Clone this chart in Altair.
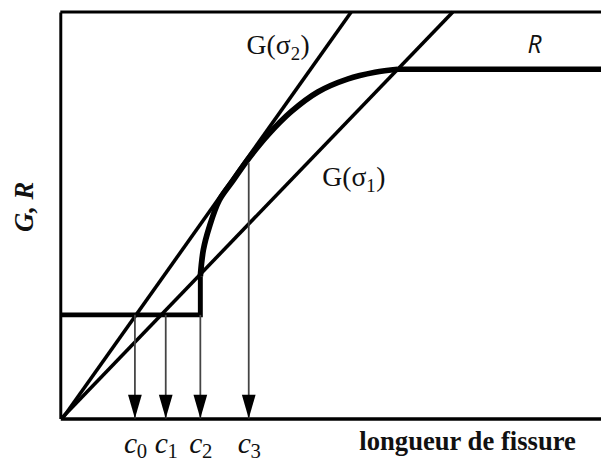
import altair as alt
import pandas as pd

# ---- data (arbitrary units 0..100) ----
C_BASE = ["c", "c", "c", "c"]
C_SUBS = ["0", "1", "2", "3"]
C_POS = [13.8, 19.5, 25.9, 34.85]
C_TOP = [25.5, 25.5, 25.5, 62.9]

STEP_X = [0.0, 25.9, 25.9]
STEP_Y = [25.5, 25.5, 35.0]

R_CURVE_X = [25.9, 26.46, 27.55, 29.38, 31.93, 34.49, 38.5, 42.7, 47.63, 53.1, 58.21, 62.41]
R_CURVE_Y = [35.0, 41.5, 47.09, 53.64, 58.5, 63.35, 69.9, 75.49, 80.34, 83.5, 85.19, 85.92]

PLATEAU_X = [62.41, 100.0]
PLATEAU_Y = [85.92, 85.92]

G2_X = [0.4, 53.8]
G2_Y = [0.0, 100.0]
G1_X = [0.2, 72.6]
G1_Y = [0.0, 100.0]

FRAME_TOP_X = [0.0, 100.0]
FRAME_TOP_Y = [100.0, 100.0]

# curve labels G(σ2), G(σ1): main part, subscript, anchor at subscript start
G_MAIN = ["G(σ", "G(σ"]
G_SUB = ["2", "1"]
G_X = [42.6, 56.6]
G_Y = [91.8, 59.4]

R_TEXT = ["R"]
R_X = [87.7]
R_Y = [91.9]

# ---- tables ----
def path_df(xs, ys):
    return pd.DataFrame({"x": xs, "y": ys, "i": list(range(len(xs)))})

arrows = pd.DataFrame({"x": C_POS, "y": C_TOP, "y2": [0.0] * len(C_POS), "sub": C_SUBS})
glab = pd.DataFrame({"x": G_X, "y": G_Y, "main": G_MAIN, "sub": G_SUB, "close": [")"] * len(G_X)})
rlab = pd.DataFrame({"x": R_X, "y": R_Y, "t": R_TEXT})

label_expr = " : ".join(
    f"abs(datum.value - {v}) < 0.01 ? '{l}'" for v, l in zip(C_POS, C_BASE)
) + " : ''"

xscale = alt.Scale(domain=[0, 100], nice=False, zero=False)
yscale = alt.Scale(domain=[0, 100], nice=False, zero=False)

x_axis = alt.Axis(
    values=C_POS, labelExpr=label_expr, labelFont="Liberation Serif",
    labelFontStyle="italic", labelFontSize=30, labelColor="#111",
    labelBaseline="alphabetic", labelAlign="center", labelPadding=34,
    labelOffset=-5,
    labelOverlap=False, labelFlush=False, ticks=False, tickSize=0, grid=False,
    domain=True, domainColor="black", domainWidth=3.5,
    title="longueur de fissure", titleFont="Liberation Serif", titleFontSize=27,
    titleFontWeight="bold", titleColor="#111", titleX=522, titleY=31,
    titleAlign="right", titleBaseline="alphabetic",
)
y_axis = alt.Axis(
    labels=False, ticks=False, tickSize=0, grid=False, domain=True,
    domainColor="black", domainWidth=3,
    title="G, R", titleFont="Liberation Serif", titleFontSize=27,
    titleFontStyle="italic", titleFontWeight="bold", titleColor="#111",
    titleAngle=270, titleX=-36, titleY=197, titleAlign="center",
    titleBaseline="middle",
)

base_x = alt.X("x:Q", scale=xscale, axis=x_axis)
base_y = alt.Y("y:Q", scale=yscale, axis=y_axis)

frame_top = alt.Chart(path_df(FRAME_TOP_X, FRAME_TOP_Y)).mark_line(
    color="black", strokeWidth=3
).encode(x=base_x, y=base_y, order="i:Q")

def line_layer(xs, ys, width, interp="linear"):
    return alt.Chart(path_df(xs, ys)).mark_line(
        color="black", strokeWidth=width, interpolate=interp, strokeJoin="miter", strokeCap="butt"
    ).encode(x=alt.X("x:Q"), y=alt.Y("y:Q"), order="i:Q")

g2 = line_layer(G2_X, G2_Y, 3.6)
g1 = line_layer(G1_X, G1_Y, 3.6)
step = line_layer(STEP_X, STEP_Y, 5)
curve = line_layer(R_CURVE_X, R_CURVE_Y, 5.8, "catmull-rom")
plateau = line_layer(PLATEAU_X, PLATEAU_Y, 5.8)

shafts = alt.Chart(arrows).mark_rule(color="#444", strokeWidth=1.8).encode(
    x="x:Q", y="y:Q", y2="y2:Q"
)
heads = alt.Chart(arrows).mark_point(
    shape="M-0.58,-1L0.58,-1L0,1Z", size=576, filled=True, color="black",
    opacity=1, yOffset=-12,
).encode(x="x:Q", y="y2:Q")

subs = alt.Chart(arrows).mark_text(
    font="Liberation Serif", fontSize=21, color="#111", align="center",
    baseline="alphabetic", dx=7, dy=40,
).encode(x="x:Q", y="y2:Q", text="sub:N")

g_main = alt.Chart(glab).mark_text(
    font="Liberation Serif", fontSize=28, color="#111", align="right",
    baseline="alphabetic", dy=9,
).encode(x="x:Q", y="y:Q", text="main:N")
g_sub = alt.Chart(glab).mark_text(
    font="Liberation Serif", fontSize=19, color="#111", align="left",
    baseline="alphabetic", dx=0, dy=15,
).encode(x="x:Q", y="y:Q", text="sub:N")
g_close = alt.Chart(glab).mark_text(
    font="Liberation Serif", fontSize=28, color="#111", align="left",
    baseline="alphabetic", dx=10, dy=9,
).encode(x="x:Q", y="y:Q", text="close:N")

annot_r = alt.Chart(rlab).mark_text(
    font="Open Sans", fontStyle="italic", fontSize=25, color="#111", align="center", baseline="middle"
).encode(x="x:Q", y="y:Q", text="t:N")

chart = alt.layer(
    frame_top, g2, g1, step, curve, plateau, shafts, heads, subs,
    g_main, g_sub, g_close, annot_r
).properties(
    width=548, height=412,
    padding={"left": 53, "top": 1, "right": 0, "bottom": 42},
    autosize=alt.AutoSizeParams(type="none"),
    background="white",
).configure_view(stroke=None)

chart.save("out.html", embed_options={"renderer": "svg", "actions": False})
